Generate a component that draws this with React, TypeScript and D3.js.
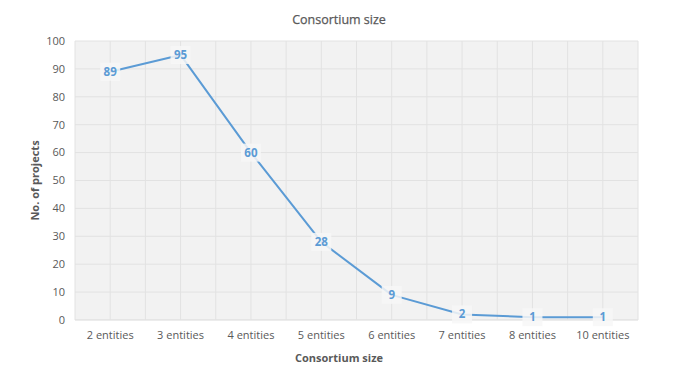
import React from "react";
import * as d3 from "d3";

const categories = ["2 entities", "3 entities", "4 entities", "5 entities", "6 entities", "7 entities", "8 entities", "10 entities"];
const values = [89, 95, 60, 28, 9, 2, 1, 1];
const yTicks = [0, 10, 20, 30, 40, 50, 60, 70, 80, 90, 100];

const W = 680, H = 381;
const M = { left: 75, right: 42, top: 41, bottom: 61 };
const FONT = "'Open Sans', 'Noto Sans', sans-serif";

export default function App() {
  const x = d3.scaleBand().domain(categories).range([M.left, W - M.right]).padding(0);
  const y = d3.scaleLinear().domain([0, 100]).range([H - M.bottom, M.top]);
  const cx = (c: string) => (x(c) as number) + x.bandwidth() / 2;
  const line = d3.line<number>().x((_, i) => cx(categories[i])).y((d) => y(d));
  const vgrid: number[] = [];
  categories.forEach((c) => {
    vgrid.push(x(c) as number);
    vgrid.push(cx(c));
  });
  vgrid.push(W - M.right);
  return (
    <svg width={W} height={H} style={{ position: "absolute", left: 0, top: 0, fontFamily: FONT }}>
      <rect x={0} y={0} width={W} height={H} fill="#ffffff" />
      <rect x={M.left} y={M.top} width={W - M.left - M.right} height={H - M.top - M.bottom} fill="#f2f2f2" />
      {yTicks.map((t) => (
        <line key={"h" + t} x1={M.left} x2={W - M.right} y1={y(t)} y2={y(t)} stroke={t === 0 ? "#d9d9d9" : "#e2e2e2"} strokeWidth={1} />
      ))}
      {vgrid.map((v, i) => (
        <line key={"v" + i} x1={v} x2={v} y1={M.top} y2={H - M.bottom} stroke="#e2e2e2" strokeWidth={1} />
      ))}
      {yTicks.map((t) => (
        <text key={"yt" + t} x={M.left - 10} y={y(t)} dy="0.35em" textAnchor="end" fontSize={11} fill="#595959">
          {t}
        </text>
      ))}
      {categories.map((c) => (
        <text key={"xt" + c} x={cx(c)} y={H - M.bottom + 15} dy="0.35em" textAnchor="middle" fontSize={11} fill="#595959">
          {c}
        </text>
      ))}
      <path d={line(values) || ""} fill="none" stroke="#5b9bd5" strokeWidth={2} strokeLinejoin="round" strokeLinecap="round" />
      {values.map((v, i) => (
        <g key={"l" + i}>
          <rect x={cx(categories[i]) - 10} y={y(v) - 9} width={20} height={18} fill="#f7f7f7" fillOpacity={0.85} />
          <text x={cx(categories[i])} y={y(v)} dy="0.35em" textAnchor="middle" fontSize={11.5} fontWeight="bold" fill="#5b9bd5">
            {v}
          </text>
        </g>
      ))}
      <text x={W / 2 - 1} y={20} dy="0.35em" textAnchor="middle" fontSize={12.5} fill="#595959" stroke="#595959" strokeWidth={0.25}>
        Consortium size
      </text>
      <text x={W / 2 - 1} y={358} dy="0.35em" textAnchor="middle" fontSize={11} fontWeight="bold" fill="#595959">
        Consortium size
      </text>
      <text transform={`translate(35,${(M.top + H - M.bottom) / 2}) rotate(-90)`} dy="0.35em" textAnchor="middle" fontSize={11} fontWeight="bold" fill="#595959">
        No. of projects
      </text>
    </svg>
  );
}
